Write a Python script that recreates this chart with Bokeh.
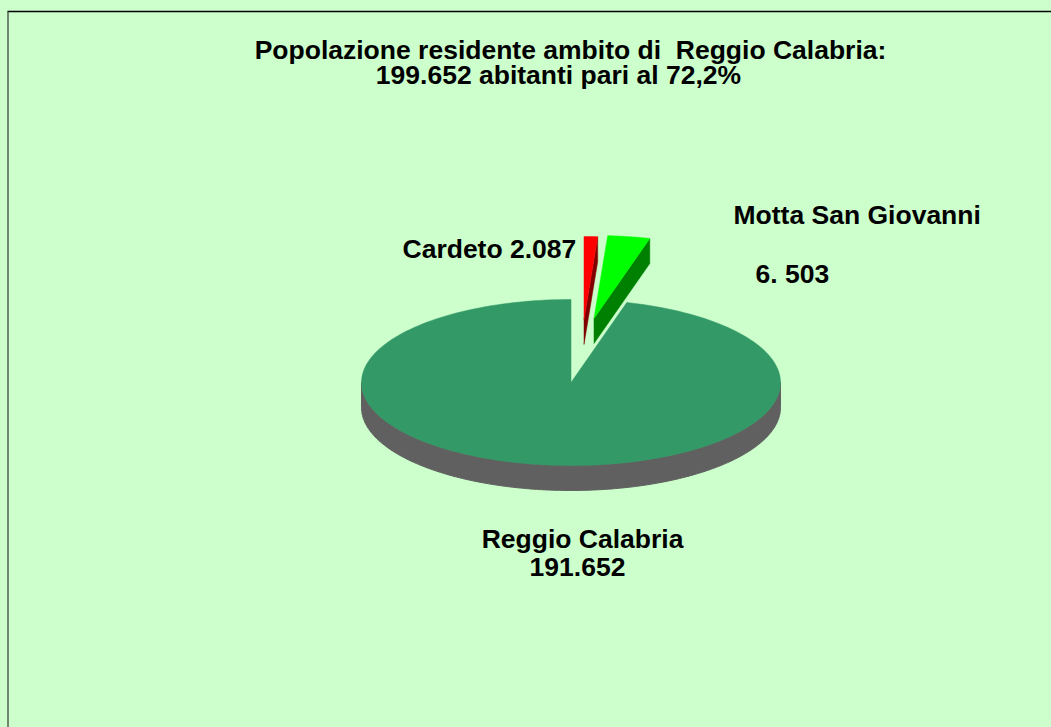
import numpy as np
from bokeh.plotting import figure
from bokeh.models import Range1d, GlobalInlineStyleSheet
from bokeh.core.properties import value
from bokeh.embed import file_html
from bokeh.resources import INLINE

# ---- data ----
title_lines = ["Popolazione residente ambito di \u00a0Reggio Calabria:",
               "199.652 abitanti pari al 72,2%"]
categories = ["Cardeto", "Motta San Giovanni", "Reggio Calabria"]
values = [2087, 6503, 191652]
label_lines = [["Cardeto 2.087"],
               ["Motta San Giovanni", "6. 503"],
               ["Reggio Calabria", "191.652"]]

# ---- styles / layout ----
top_colors = ["#FF0000", "#00FF00", "#339966"]
side_colors = ["#800000", "#008000", "#606060"]
explode = [(13, -63), (23, -64), (0, 0)]          # pixel offsets of exploded slices
title_pos = [(570, 58), (558, 83)]
label_pos = [[(402, 257, "left")],
             [(733, 223, "left"), (755, 282, "left")],
             [(582, 547, "center"), (577, 575, "center")]]
TEXT_DY = -9
BG = "#CCFFCC"
W, H = 1051, 727
CX, CY, RX, RY, DEPTH = 570.5, 382.0, 209.5, 83.0, 25.0
FONT = value("Liberation Sans")
FSIZE = "26.5px"

p = figure(width=W, height=H, output_backend="svg", toolbar_location=None,
           x_range=Range1d(0, W), y_range=Range1d(H, 0), min_border=0)
p.axis.visible = False
p.grid.visible = False
p.outline_line_color = None
p.background_fill_color = BG
p.border_fill_color = BG
p.stylesheets = [GlobalInlineStyleSheet(css="body{background-color:%s;}" % BG)]

# frame lines (top and left)
p.line([7, W], [11, 11], line_color="black", line_width=1.5)
p.line([7.5, 7.5], [11, H], line_color="#4f5f4f", line_width=1.5)

vals = np.array(values, dtype=float)
frac = vals / vals.sum()
ends = np.cumsum(frac) * 2 * np.pi
starts = ends - frac * 2 * np.pi


def arc(t0, t1, dx=0.0, dy=0.0, n=200):
    t = np.linspace(t0, t1, n)
    return CX + dx + RX * np.sin(t), CY + dy - RY * np.cos(t)


# main slice side (front half of rim)
i_main = 2
ax_, ay_ = arc(np.pi / 2, 3 * np.pi / 2)
p.patch(np.concatenate([ax_, ax_[::-1]]), np.concatenate([ay_, ay_[::-1] + DEPTH]),
        fill_color=side_colors[i_main], line_color=side_colors[i_main], line_width=1)
# main slice top
mx, my = arc(starts[i_main], ends[i_main])
p.patch(np.concatenate([[CX], mx, [CX]]), np.concatenate([[CY], my, [CY]]),
        fill_color=top_colors[i_main], line_color=top_colors[i_main], line_width=0.5)

# exploded small slices
for i in [0, 1]:
    dx, dy = explode[i]
    ox, oy = CX + dx, CY + dy
    ex, ey = arc(ends[i], ends[i], dx, dy, n=1)
    p.patch([ox, ex[0], ex[0], ox], [oy, ey[0], ey[0] + DEPTH, oy + DEPTH],
            fill_color=side_colors[i], line_color=side_colors[i], line_width=0.5)
    sx, sy = arc(starts[i], ends[i], dx, dy, n=40)
    p.patch(np.concatenate([[ox], sx, [ox]]), np.concatenate([[oy], sy, [oy]]),
            fill_color=top_colors[i], line_color=top_colors[i], line_width=0.5)

# title
p.text(x=[t[0] for t in title_pos], y=[t[1] + TEXT_DY for t in title_pos], text=title_lines,
       text_font=FONT, text_font_style="bold", text_font_size=FSIZE,
       text_color="black", text_align="center", text_baseline="alphabetic")

# labels
for lines, poss in zip(label_lines, label_pos):
    for txt, (lx, ly, al) in zip(lines, poss):
        p.text(x=[lx], y=[ly + TEXT_DY], text=[txt], text_font=FONT, text_font_style="bold",
               text_font_size=FSIZE, text_color="black", text_align=al,
               text_baseline="alphabetic")

open("out.html", "w").write(file_html(p, INLINE))
